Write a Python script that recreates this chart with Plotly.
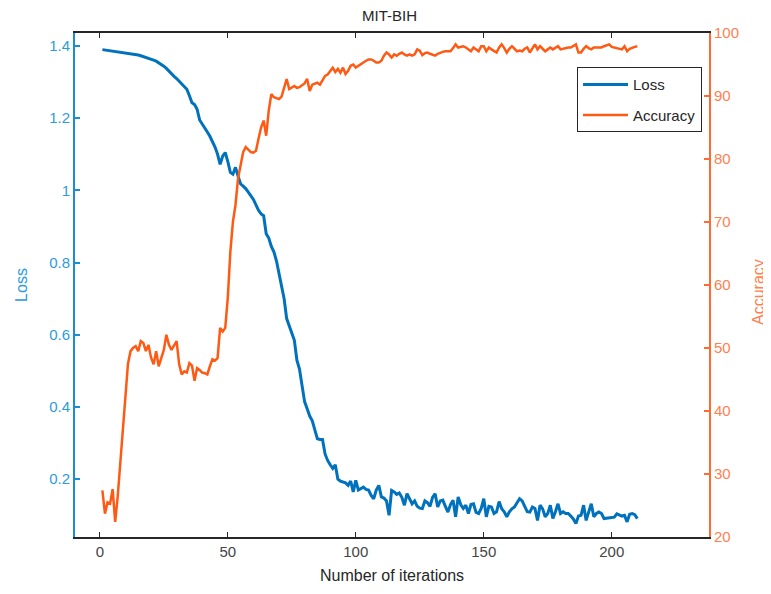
import plotly.graph_objects as go

iterations = list(range(1, 211))

loss = [
    1.390, 1.389, 1.388, 1.388, 1.387, 1.386, 1.385, 1.384, 1.383, 1.382,
    1.381, 1.380, 1.378, 1.377, 1.375, 1.373, 1.371, 1.369, 1.367, 1.364,
    1.361, 1.358, 1.354, 1.350, 1.344, 1.338, 1.330, 1.322, 1.316, 1.310,
    1.303, 1.296, 1.289, 1.280, 1.262, 1.243, 1.238, 1.225, 1.195, 1.185,
    1.175, 1.162, 1.150, 1.135, 1.120, 1.100, 1.072, 1.095, 1.105, 1.080,
    1.050, 1.045, 1.064, 1.040, 1.018, 1.012, 1.005, 0.995, 0.985, 0.975,
    0.960, 0.945, 0.935, 0.930, 0.880, 0.868, 0.845, 0.830, 0.805, 0.770,
    0.740, 0.700, 0.645, 0.625, 0.600, 0.585, 0.530, 0.505, 0.460, 0.415,
    0.395, 0.375, 0.362, 0.335, 0.312, 0.310, 0.310, 0.270, 0.252, 0.240,
    0.230, 0.240, 0.200, 0.195, 0.192, 0.190, 0.183, 0.195, 0.165, 0.197,
    0.170, 0.175, 0.178, 0.172, 0.170, 0.155, 0.146, 0.170, 0.183, 0.151,
    0.148, 0.140, 0.100, 0.169, 0.165, 0.158, 0.162, 0.150, 0.128, 0.160,
    0.148, 0.132, 0.140, 0.125, 0.120, 0.119, 0.140, 0.135, 0.125, 0.150,
    0.160, 0.123, 0.140, 0.142, 0.125, 0.109, 0.130, 0.142, 0.096, 0.151,
    0.130, 0.119, 0.128, 0.105, 0.130, 0.132, 0.108, 0.105, 0.119, 0.146,
    0.096, 0.125, 0.123, 0.105, 0.110, 0.138, 0.118, 0.110, 0.096, 0.110,
    0.118, 0.123, 0.135, 0.146, 0.140, 0.123, 0.110, 0.109, 0.123, 0.119,
    0.086, 0.128, 0.118, 0.096, 0.105, 0.128, 0.091, 0.110, 0.132, 0.105,
    0.110, 0.105, 0.105, 0.098, 0.090, 0.077, 0.098, 0.100, 0.128, 0.086,
    0.110, 0.132, 0.096, 0.105, 0.109, 0.105, 0.091, 0.092, 0.093, 0.092,
    0.095, 0.104, 0.100, 0.098, 0.100, 0.082, 0.103, 0.105, 0.102, 0.091,
]

accuracy = [
    27.4, 23.7, 25.5, 25.3, 27.6, 22.4, 26.5, 31.5, 36.8, 42.0,
    47.5, 49.5, 50.0, 50.3, 49.5, 51.1, 50.8, 49.5, 50.5, 48.5,
    47.4, 49.5, 47.1, 48.4, 49.7, 52.1, 50.5, 49.7, 50.5, 51.1,
    47.4, 45.8, 46.3, 46.1, 47.6, 47.2, 44.8, 46.8, 46.5, 46.1,
    46.0, 45.8, 47.1, 48.2, 48.0, 48.4, 53.2, 52.6, 53.2, 58.0,
    65.3, 70.0, 72.7, 76.9, 79.0, 81.1, 81.9, 81.5, 81.1, 81.0,
    81.3, 83.2, 85.0, 86.1, 83.7, 87.7, 90.3, 89.8, 89.6, 89.5,
    89.9, 91.5, 92.7, 91.1, 91.4, 91.6, 91.3, 91.4, 91.7, 92.0,
    92.7, 90.8, 91.8, 92.0, 92.1, 91.8, 92.6, 93.2, 93.4, 94.0,
    94.5, 93.8, 94.3, 93.7, 94.5, 93.5, 94.0, 94.8, 95.0, 94.5,
    94.8, 95.0, 95.3, 95.6, 95.8, 95.8, 95.6, 95.3, 95.3, 95.6,
    96.4, 96.9, 96.6, 96.1, 96.6, 96.4, 96.7, 96.9, 96.6, 96.4,
    96.6, 96.4, 96.6, 97.4, 97.2, 96.5, 96.8, 96.9, 96.7, 96.6,
    96.4, 96.7, 96.9, 97.0, 97.1, 97.1, 97.1, 97.6, 98.2, 97.7,
    97.8, 97.9, 97.7, 97.4, 97.1, 97.7, 97.4, 97.1, 97.9, 97.9,
    97.1, 97.7, 97.4, 97.1, 96.9, 97.7, 98.2, 97.6, 96.9, 97.5,
    97.9, 97.5, 97.1, 97.2, 97.1, 97.5, 97.7, 96.9, 97.6, 98.2,
    97.4, 97.9, 97.5, 97.1, 97.4, 97.7, 97.4, 97.6, 97.9, 97.4,
    97.5, 97.7, 97.7, 97.7, 98.0, 98.2, 96.9, 96.9, 97.5, 97.9,
    97.6, 97.4, 97.7, 97.7, 97.7, 97.7, 97.9, 98.0, 98.2, 97.8,
    97.7, 97.7, 97.6, 97.4, 97.9, 97.1, 97.5, 97.7, 97.8, 97.9,
]

x_ticks = [0, 50, 100, 150, 200]
loss_ticks = [0.2, 0.4, 0.6, 0.8, 1.0, 1.2, 1.4]
loss_tick_text = ["0.2", "0.4", "0.6", "0.8", "1", "1.2", "1.4"]
acc_ticks = [20, 30, 40, 50, 60, 70, 80, 90, 100]

FONT = "Liberation Sans, Arial, sans-serif"
BLUE_LINE = "#0072BD"
BLUE_AXIS = "#1B8DD2"
BLUE_TEXT = "#2D9CDB"
ORANGE_LINE = "#FF5A14"
ORANGE_AXIS = "#FF6A33"
ORANGE_TEXT = "#FF7F50"
GREY = "#262626"

fig = go.Figure()
fig.add_trace(go.Scatter(x=iterations, y=loss, mode="lines", name="Loss",
                         legendgroup="a",
                         line=dict(color=BLUE_LINE, width=3), yaxis="y"))
fig.add_trace(go.Scatter(x=iterations, y=accuracy, mode="lines", name="Accuracy",
                         legendgroup="b",
                         line=dict(color=ORANGE_LINE, width=2.5), yaxis="y2"))

# the page body keeps its default 8px margin, so the figure is 8px smaller
fig.update_layout(
    width=763, height=586,
    margin=dict(l=62, r=62, t=25, b=54),
    paper_bgcolor="white", plot_bgcolor="white",
    font=dict(family=FONT, size=15, color=GREY),
    title=dict(text="MIT-BIH", x=0.5, xanchor="center", y=0.986, yanchor="middle",
               font=dict(family=FONT, size=15, color=GREY)),
    showlegend=True,
    legend=dict(x=0.989, xanchor="right", y=0.932, yanchor="top",
                bordercolor=GREY, borderwidth=1, bgcolor="white",
                traceorder="grouped", tracegroupgap=8, itemwidth=45,
                font=dict(family=FONT, size=15, color=GREY)),
    xaxis=dict(range=[-9.7, 238], tickvals=x_ticks, ticks="inside", ticklen=5,
               tickcolor=GREY, showline=True, linecolor=GREY, linewidth=1.5,
               mirror="ticks", showgrid=False, zeroline=False,
               tickfont=dict(family=FONT, size=15, color="#444444"),
               title=dict(text="Number of iterations", standoff=11,
                          font=dict(family=FONT, size=16, color=GREY))),
    yaxis=dict(range=[0.04, 1.436], tickvals=loss_ticks, ticktext=loss_tick_text,
               ticks="inside", ticklen=5, tickcolor=BLUE_AXIS, tickwidth=1.5,
               showline=True, linecolor=BLUE_AXIS, linewidth=2,
               showgrid=False, zeroline=False,
               tickfont=dict(family=FONT, size=15, color=BLUE_TEXT),
               title=dict(text="Loss", standoff=18,
                          font=dict(family=FONT, size=16, color=BLUE_TEXT))),
    yaxis2=dict(range=[20, 100], tickvals=acc_ticks, overlaying="y", side="right",
                ticks="inside", ticklen=5, tickcolor=ORANGE_AXIS, tickwidth=1.5,
                showline=True, linecolor=ORANGE_AXIS, linewidth=2,
                showgrid=False, zeroline=False,
                tickfont=dict(family=FONT, size=15, color=ORANGE_TEXT)),
    annotations=[dict(text="Accuracy", xref="paper", yref="paper",
                      x=1.078, y=0.487, xanchor="center", yanchor="middle",
                      textangle=-90, showarrow=False,
                      font=dict(family=FONT, size=16, color=ORANGE_TEXT))],
)

fig.write_html("out.html", config={"displayModeBar": False})
